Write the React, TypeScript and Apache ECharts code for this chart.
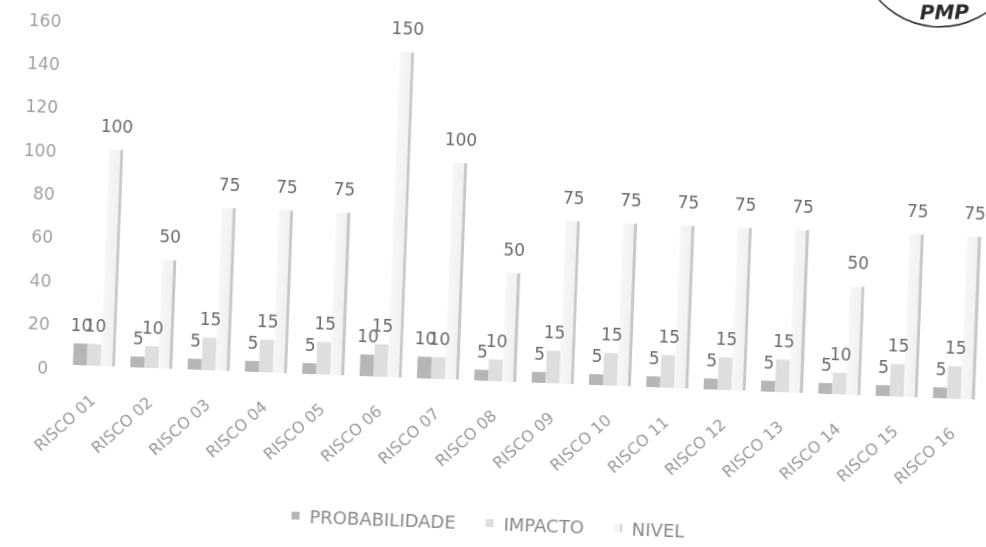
import React, { useEffect, useRef } from "react";
import * as echarts from "echarts";

const categories = [
  "RISCO 01", "RISCO 02", "RISCO 03", "RISCO 04", "RISCO 05", "RISCO 06", "RISCO 07", "RISCO 08",
  "RISCO 09", "RISCO 10", "RISCO 11", "RISCO 12", "RISCO 13", "RISCO 14", "RISCO 15", "RISCO 16",
];
const probabilidade = [10, 5, 5, 5, 5, 10, 10, 5, 5, 5, 5, 5, 5, 5, 5, 5];
const impacto = [10, 10, 15, 15, 15, 15, 10, 10, 15, 15, 15, 15, 15, 10, 15, 15];
const nivel = [100, 50, 75, 75, 75, 150, 100, 50, 75, 75, 75, 75, 75, 50, 75, 75];
const seriesNames = ["PROBABILIDADE", "IMPACTO", "NIVEL"];
const yMin = 0;
const yMax = 160;
const yStep = 20;

const FONT = "DejaVu Sans";

export default function App() {
  const ref = useRef<HTMLDivElement>(null);
  useEffect(() => {
    if (!ref.current) return;
    const chart = echarts.init(ref.current, null, { renderer: "svg" });
    const labelStyle = (dist: number) => ({
      show: true,
      position: "top" as const,
      distance: dist,
      fontFamily: FONT,
      fontSize: 17,
      color: "#6a6a6a",
    });
    chart.setOption({
      animation: false,
      backgroundColor: "#ffffff",
      grid: { left: 99, top: 64, width: 918, height: 347 },
      legend: {
        data: seriesNames,
        left: 326,
        top: 539,
        itemWidth: 8,
        itemHeight: 8,
        itemGap: 30,
        icon: "rect",
        textStyle: { fontFamily: FONT, fontSize: 18, color: "#8a8a8a", padding: [0, 0, 0, 5] },
      },
      xAxis: {
        type: "category",
        data: categories,
        axisLine: { show: false },
        axisTick: { show: false },
        axisLabel: {
          rotate: 44,
          margin: 32,
          interval: 0,
          fontFamily: FONT,
          fontSize: 16,
          color: "#9a9a9a",
        },
      },
      yAxis: {
        type: "value",
        min: yMin,
        max: yMax,
        interval: yStep,
        splitLine: { show: false },
        axisLine: { show: false },
        axisTick: { show: false },
        axisLabel: {
          margin: 17,
          fontFamily: FONT,
          fontSize: 17,
          color: "#a0a0a0",
          formatter: "{a|{value}}",
          rich: { a: { fontFamily: FONT, fontSize: 17, color: "#a0a0a0", padding: [7, 0, 0, 0] } },
        },
      },
      series: [
        {
          name: seriesNames[0],
          type: "bar",
          data: probabilidade,
          barWidth: 14,
          barGap: "0%",
          itemStyle: { color: "#b6b6b8" },
          label: labelStyle(10),
        },
        {
          name: seriesNames[1],
          type: "bar",
          data: impacto,
          barWidth: 14,
          barGap: "0%",
          itemStyle: { color: "#dedede" },
          label: labelStyle(10),
        },
        {
          name: seriesNames[2],
          type: "bar",
          data: nivel,
          barWidth: 14,
          barGap: "0%",
          itemStyle: {
            color: new echarts.graphic.LinearGradient(0, 0, 1, 0, [
              { offset: 0, color: "#f7f7f7" },
              { offset: 0.78, color: "#f1f1f1" },
              { offset: 0.8, color: "#cdcdcd" },
              { offset: 1, color: "#c2c2c2" },
            ]),
          },
          label: labelStyle(15),
        },
      ],
      graphic: [
        {
          type: "circle",
          shape: { cx: 957, cy: -42, r: 82 },
          style: { fill: "none", stroke: "#333", lineWidth: 1.6 },
          silent: true,
        },
        {
          type: "text",
          x: 964,
          y: 25,
          rotation: 0.05,
          style: {
            text: "PMP",
            fontFamily: "DejaVu Sans",
            fontSize: 20,
            fontWeight: "bold",
            fontStyle: "italic",
            fill: "#2a2a2a",
            align: "center",
            verticalAlign: "middle",
          },
          silent: true,
        },
      ],
    });
    return () => chart.dispose();
  }, []);
  return (
    <div
      ref={ref}
      style={{
        position: "fixed",
        left: -30,
        top: -30,
        width: 1046,
        height: 607,
        transform: "rotate(2.2deg)",
        transformOrigin: "50% 50%",
      }}
    />
  );
}
